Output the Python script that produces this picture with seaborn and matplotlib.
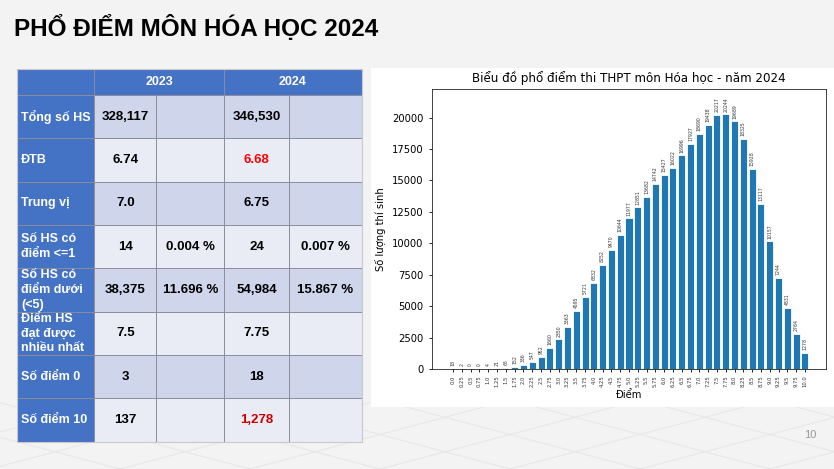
import matplotlib
matplotlib.use("Agg")
import matplotlib.pyplot as plt
import seaborn as sns
import pandas as pd
import numpy as np
from matplotlib.patches import Rectangle

# ---------------- data ----------------
scores = [0.0, 0.25, 0.5, 0.75, 1.0, 1.25, 1.5, 1.75, 2.0, 2.25, 2.5, 2.75,
          3.0, 3.25, 3.5, 3.75, 4.0, 4.25, 4.5, 4.75, 5.0, 5.25, 5.5, 5.75,
          6.0, 6.25, 6.5, 6.75, 7.0, 7.25, 7.5, 7.75, 8.0, 8.25, 8.5, 8.75,
          9.0, 9.25, 9.5, 9.75, 10.0]
counts = [18, 2, 0, 0, 4, 21, 65, 152, 336, 547, 952, 1660,
          2350, 3363, 4595, 5721, 6832, 8252, 9470, 10644, 11977, 12851, 13682, 14742,
          15427, 16022, 16996, 17927, 18690, 19438, 20217, 20244, 19689, 18325, 15928, 13117,
          10157, 7244, 4831, 2764, 1278]

slide_title = "PHỔ ĐIỂM MÔN HÓA HỌC 2024"
chart_title = "Biểu đồ phổ điểm thi THPT môn Hóa học - năm 2024"
x_label = "Điểm"
y_label = "Số lượng thí sinh"

table_years = ["2023", "2024"]
row_labels = ["Tổng số HS", "ĐTB", "Trung vị", "Số HS có\nđiểm <=1",
              "Số HS có\nđiểm dưới\n(<5)", "Điểm HS\nđạt được\nnhiều nhất",
              "Số điểm 0", "Số điểm 10"]
val_2023 = ["328,117", "6.74", "7.0", "14", "38,375", "7.5", "3", "137"]
pct_2023 = ["", "", "", "0.004 %", "11.696 %", "", "", ""]
val_2024 = ["346,530", "6.68", "6.75", "24", "54,984", "7.75", "18", "1,278"]
pct_2024 = ["", "", "", "0.007 %", "15.867 %", "", "", ""]
page_number = "10"

# ---------------- figure ----------------
W, H = 834, 469
fig = plt.figure(figsize=(W / 100, H / 100), dpi=100)
fig.patch.set_facecolor("#f3f3f3")

bg = fig.add_axes([0, 0, 1, 1])
bg.set_xlim(0, W)
bg.set_ylim(H, 0)
bg.axis("off")
bg.set_zorder(0)

# faint floor-grid decoration
for x0 in range(-400, 1000, 130):
    bg.plot([x0, x0 + 260], [400, 469], color="#e6e6e6", lw=0.7, zorder=0)
    bg.plot([x0 + 260, x0], [400, 469], color="#e6e6e6", lw=0.7, zorder=0)

bg.text(14, 28, slide_title, fontsize=17.5, fontweight="bold", color="black",
        family="Liberation Sans", va="center", ha="left")
bg.text(810, 435, page_number, fontsize=8, color="#999999",
        family="Liberation Sans", va="center", ha="center")

# ---------------- table ----------------
col_x = [17.3, 94.3, 156.3, 224.3, 289.3, 361.7]
row_y = [69, 95, 138.3, 181.7, 225, 268.3, 311.7, 355.3, 398.3, 442]
blue = "#4472C4"
dark = "#CFD5EA"
light = "#E9EBF5"
grid = "#8c8c9c"
tf = "Liberation Sans"

# header
bg.add_patch(Rectangle((col_x[0], row_y[0]), col_x[-1] - col_x[0], row_y[1] - row_y[0],
                       facecolor=blue, edgecolor="none", zorder=1))
for i, yr in enumerate(table_years):
    cx = (col_x[1 + 2 * i] + col_x[3 + 2 * i]) / 2
    bg.text(cx, (row_y[0] + row_y[1]) / 2, yr, color="white", fontweight="bold",
            fontsize=9, family=tf, ha="center", va="center", zorder=3)

for r in range(len(row_labels)):
    y0, y1 = row_y[r + 1], row_y[r + 2]
    fill = dark if r % 2 == 0 else light
    bg.add_patch(Rectangle((col_x[0], y0), col_x[1] - col_x[0], y1 - y0,
                           facecolor=blue, edgecolor="none", zorder=1))
    bg.add_patch(Rectangle((col_x[1], y0), col_x[-1] - col_x[1], y1 - y0,
                           facecolor=fill, edgecolor="none", zorder=1))
    cy = (y0 + y1) / 2
    bg.text(21, cy, row_labels[r], color="white", fontweight="bold", fontsize=9,
            family=tf, ha="left", va="center", linespacing=1.3, zorder=3)
    cells = [val_2023[r], pct_2023[r], val_2024[r], pct_2024[r]]
    for c, txt in enumerate(cells):
        color = "black"
        if c == 2 and r == 1:
            color = "#ff0000"
        if c == 2 and r == 7:
            color = "#cc0000"
        cx = (col_x[c + 1] + col_x[c + 2]) / 2
        bg.text(cx, cy, txt, color=color, fontweight="bold", fontsize=9.5,
                family=tf, ha="center", va="center", zorder=3)

# grid lines
for y in row_y[1:-1]:
    bg.plot([col_x[0], col_x[-1]], [y, y], color=grid, lw=0.7, zorder=2)
for i, x in enumerate(col_x[1:-1]):
    top = row_y[0] if i in (0, 2) else row_y[1]
    bg.plot([x, x], [top, row_y[-1]], color=grid, lw=0.7, zorder=2)
bg.add_patch(Rectangle((col_x[0], row_y[0]), col_x[-1] - col_x[0], row_y[-1] - row_y[0],
                       facecolor="none", edgecolor="#c8c8d0", lw=0.8, zorder=2))

# white chart panel
bg.add_patch(Rectangle((371, 68), 463, 339, facecolor="white", edgecolor="none", zorder=1))

# ---------------- chart ----------------
df = pd.DataFrame({"score": scores, "count": counts})
ax = fig.add_axes([432 / W, (H - 369) / H, (826 - 432) / W, (369 - 89) / H])
ax.set_zorder(2)
ax.set_facecolor("white")
sns.barplot(data=df, x="score", y="count", native_scale=True, color="#1f77b4",
            saturation=1, edgecolor="white", linewidth=0.6, width=0.8, ax=ax, errorbar=None)
for cont in ax.containers:
    ax.bar_label(cont, labels=[str(v) for v in counts], rotation=90, fontsize=3.3,
                 padding=2, color="#333333")
ax.set_xlim(-0.6, 10.6)
ax.set_ylim(0, max(counts) * 1.1)
ax.set_xticks(scores)
ax.set_xticklabels([str(s) for s in scores], rotation=90, fontsize=3.8, color="#333333")
ax.tick_params(axis="x", length=2.5, width=0.6, pad=2)
ax.set_yticks(np.arange(0, 20001, 2500))
ax.tick_params(axis="y", labelsize=7.2, length=2.5, width=0.6)
ax.set_xlabel(x_label, fontsize=7.2, labelpad=2)
ax.set_ylabel(y_label, fontsize=7.2, labelpad=4)
ax.set_title(chart_title, fontsize=8.6, pad=5)
for s in ax.spines.values():
    s.set_linewidth(0.6)
    s.set_color("#222222")

fig.savefig("out.png", dpi=100, facecolor=fig.get_facecolor())
